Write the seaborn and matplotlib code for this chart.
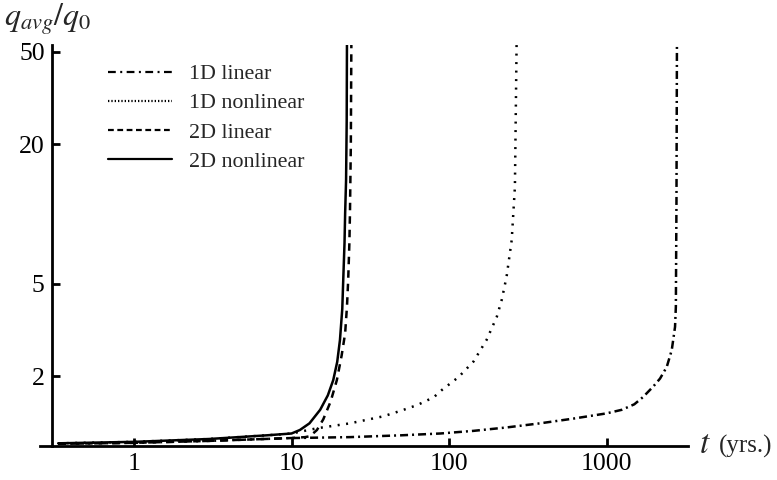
import numpy as np
import pandas as pd
import matplotlib
matplotlib.use("Agg")
import matplotlib.pyplot as plt
from matplotlib.lines import Line2D
from matplotlib.ticker import NullLocator, FixedLocator, FixedFormatter
import seaborn as sns

# ---- data: average heat flux ratio vs. time (years) ----
t_1d_lin = [0.33, 1, 3, 10, 23.5, 50, 88, 143, 232, 378, 615, 1000, 1250, 1500,
            1700, 1977, 2186, 2412, 2595, 2722, 2755, 2780, 2800]
q_1d_lin = [1.02, 1.03, 1.05, 1.08, 1.09, 1.11, 1.13, 1.16, 1.20, 1.25, 1.31, 1.38,
            1.43, 1.51, 1.62, 1.80, 1.95, 2.19, 2.59, 3.26, 3.98, 11.5, 60]

t_1d_nl = [0.33, 1, 3, 7, 10, 14.5, 23.5, 38.2, 50, 63, 80, 90, 115, 143, 173,
           201, 216, 232, 250, 262, 269]
q_1d_nl = [1.025, 1.04, 1.07, 1.11, 1.13, 1.19, 1.25, 1.34, 1.42, 1.50, 1.62, 1.74,
           1.98, 2.31, 2.86, 3.6, 4.26, 5.37, 7.72, 13.1, 60]

t_2d_lin = [0.33, 1, 3, 10, 12.2, 13.1, 14.5, 15.9, 17.7, 19.4, 20.8, 21.9, 22.5,
            22.9, 23.3, 23.5, 23.8, 24.0]
q_2d_lin = [1.02, 1.03, 1.05, 1.08, 1.09, 1.10, 1.17, 1.30, 1.55, 1.92, 2.45, 3.06,
            4.0, 5.2, 7.5, 10.1, 20, 60]

t_2d_nl = [0.33, 1, 3, 7, 10, 11.3, 13, 15.2, 17, 18.4, 19.5, 20.3, 21.0, 21.3,
           21.7, 21.9, 22.2, 22.4, 22.5]
q_2d_nl = [1.025, 1.04, 1.07, 1.11, 1.13, 1.17, 1.25, 1.43, 1.65, 1.92, 2.3, 2.86,
           3.9, 5.2, 7.5, 10.1, 14, 25, 60]

series_names = ["1D linear", "1D nonlinear", "2D linear", "2D nonlinear"]
x_ticks = [1, 10, 100, 1000]
x_ticklabels = ["1", "10", "100", "1000"]
y_ticks = [2, 5, 20, 50]
y_ticklabels = ["2", "5", "20", "50"]

df = pd.concat([
    pd.DataFrame({"t": t_1d_lin, "q": q_1d_lin, "case": series_names[0]}),
    pd.DataFrame({"t": t_1d_nl, "q": q_1d_nl, "case": series_names[1]}),
    pd.DataFrame({"t": t_2d_lin, "q": q_2d_lin, "case": series_names[2]}),
    pd.DataFrame({"t": t_2d_nl, "q": q_2d_nl, "case": series_names[3]}),
], ignore_index=True)

# ---- style ----
sns.set_style("white")
plt.rcParams["font.family"] = ["Liberation Serif", "DejaVu Serif"]
plt.rcParams["mathtext.fontset"] = "stix"

lw = 1.8
plot_dashes = {
    "1D linear": (3.2, 1.6, 0.8, 1.6),
    "1D nonlinear": (0.8, 2.6),
    "2D linear": (3.0, 2.4),
    "2D nonlinear": "",
}

fig = plt.figure(figsize=(7.77, 4.8), dpi=100)
ax = fig.add_axes([40 / 777, (480 - 445.8) / 480, 648 / 777, (445.8 - 45) / 480])

sns.lineplot(data=df, x="t", y="q", style="case", style_order=series_names,
             dashes=plot_dashes, color="black", linewidth=lw,
             estimator=None, sort=False, legend=False, ax=ax)

ax.set_xscale("log")
ax.set_yscale("log")
ax.set_xlim(0.253, 3290)
ax.set_ylim(1, 53.6)

for side in ("top", "right"):
    ax.spines[side].set_visible(False)
ax.spines["left"].set_position(("data", 0.30))
for side in ("left", "bottom"):
    ax.spines[side].set_linewidth(2.0)
    ax.spines[side].set_color("black")

ax.xaxis.set_major_locator(FixedLocator(x_ticks))
ax.xaxis.set_major_formatter(FixedFormatter(x_ticklabels))
ax.yaxis.set_major_locator(FixedLocator(y_ticks))
ax.yaxis.set_major_formatter(FixedFormatter(y_ticklabels))
ax.xaxis.set_minor_locator(NullLocator())
ax.yaxis.set_minor_locator(NullLocator())
ax.tick_params(bottom=True, left=True, top=False, right=False,
               direction="in", length=6, width=2, labelsize=18.5,
               colors="black", pad=5)
ax.set_xlabel("")
ax.set_ylabel("")
ax.patch.set_alpha(0)

# ---- legend ----
legend_dashes = [(3.5, 2.0, 0.9, 2.0), (0.6, 0.9), (2.6, 1.6), None]
handles = []
for name, d in zip(series_names, legend_dashes):
    if d is None:
        h = Line2D([], [], color="black", lw=1.6, linestyle="-")
    else:
        h = Line2D([], [], color="black", lw=1.6, linestyle=(0, d))
    handles.append(h)
fig.legend(handles, series_names, loc="upper left",
           bbox_to_anchor=(108 / 777, 1 - 64 / 480), frameon=False,
           fontsize=15.8, handlelength=2.9, handletextpad=0.8,
           labelspacing=0.4, borderpad=0, borderaxespad=0)

# ---- axis titles ----
fig.text(4 / 777, 1 - 26 / 480, r"$q_{avg}/q_0$", fontsize=23, va="baseline",
         ha="left")
fig.text(699 / 777, 1 - 453 / 480, r"$t$", fontsize=24, va="baseline", ha="left")
fig.text(719 / 777, 1 - 453 / 480, "(yrs.)", fontsize=18, va="baseline", ha="left")

fig.savefig("out.png", dpi=100)
